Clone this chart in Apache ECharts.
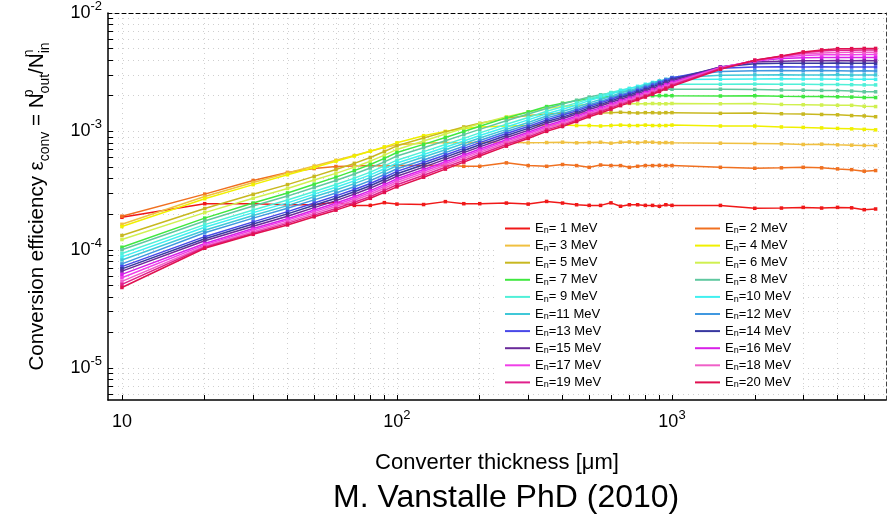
<!DOCTYPE html>
<html>
<head>
<meta charset="utf-8">
<script src="https://cdn.jsdelivr.net/npm/echarts@6/dist/echarts.min.js"></script>
<style>html,body{margin:0;padding:0;background:#fff}#c{width:894px;height:526px}</style>
</head>
<body>
<div id="c"></div>
<script>
// Converter thickness [um]
const thickness = [10,20,30,40,50,60,70,80,90,100,125,150,175,200,250,300,350,400,450,500,550,600,650,700,750,800,850,900,950,1000,1500,2000,2500,3000,3500,4000,4500,5000,5500];
// Conversion efficiency, in units of 1e-4
const unit = 1e-4;
const e1  = [1.88,2.45,2.45,2.40,2.40,2.52,2.37,2.37,2.50,2.43,2.41,2.55,2.45,2.45,2.48,2.43,2.56,2.48,2.40,2.37,2.37,2.49,2.33,2.40,2.40,2.37,2.37,2.33,2.40,2.37,2.37,2.24,2.25,2.28,2.25,2.28,2.26,2.18,2.21];
const e2  = [1.92,2.95,3.85,4.50,4.85,5.05,5.10,5.15,5.10,5.15,5.14,5.18,5.07,5.07,5.42,5.14,5.07,5.25,5.14,4.97,5.20,5.14,5.14,4.97,5.07,5.14,5.14,5.16,5.14,5.14,4.97,4.88,4.92,4.97,4.92,4.82,4.75,4.61,4.67];
const e3  = [1.64,2.82,3.70,4.45,5.10,5.70,6.25,6.80,7.30,7.70,7.95,8.05,8.00,8.10,8.10,8.00,8.05,8.10,8.00,8.05,8.10,7.95,8.10,8.15,8.00,8.15,8.10,8.00,8.05,8.00,7.95,7.90,7.85,7.75,7.80,7.70,7.65,7.60,7.60];
const e4  = [1.57,2.70,3.55,4.30,4.95,5.60,6.20,6.80,7.40,8.00,9.20,10.0,10.6,10.9,11.1,11.2,11.2,11.3,11.2,11.2,11.1,11.2,11.3,11.2,11.2,11.3,11.2,11.2,11.2,11.3,11.1,11.1,10.9,10.8,10.7,10.6,10.5,10.4,10.3];
const e5  = [1.32,2.23,2.94,3.55,4.17,4.76,5.37,6.02,6.76,7.55,8.80,9.90,10.9,11.7,12.9,13.6,14.0,14.2,14.3,14.4,14.3,14.4,14.5,14.4,14.3,14.4,14.4,14.3,14.4,14.4,14.2,14.3,14.1,14.0,13.9,13.8,13.6,13.5,13.3];
const e6  = [1.22,2.06,2.72,3.29,3.88,4.42,4.99,5.60,6.30,7.04,8.30,9.50,10.6,11.6,13.3,14.6,15.6,16.2,16.6,16.9,17.0,17.1,17.1,17.2,17.1,17.1,17.2,17.1,17.1,17.2,17.1,17.2,16.9,16.8,16.7,16.6,16.6,16.3,16.2];
const e7  = [1.05,1.85,2.48,3.02,3.58,4.11,4.66,5.25,5.92,6.63,7.77,8.89,9.98,11.05,13.0,14.6,16.2,17.3,18.2,18.9,19.4,19.7,19.9,20.0,20.0,20.1,20.0,20.0,20.1,20.0,19.9,20.0,19.8,19.7,19.7,19.6,19.5,19.3,19.3];
const e8  = [1.00,1.75,2.34,2.84,3.36,3.85,4.36,4.90,5.53,6.19,7.27,8.34,9.39,10.4,12.3,14.0,15.6,17.0,18.3,19.5,20.4,21.1,21.7,22.1,22.4,22.6,22.7,22.7,22.8,22.7,22.7,22.6,22.4,22.3,22.2,22.1,21.9,21.6,21.6];
const e9  = [0.93,1.63,2.17,2.63,3.11,3.56,4.03,4.53,5.11,5.71,6.74,7.74,8.73,9.71,11.5,13.1,14.8,16.1,17.4,18.8,20.1,21.3,22.3,23.1,23.8,24.3,24.6,24.8,24.9,25.0,25.0,25.1,25.0,25.0,24.9,24.9,24.8,24.7,24.7];
const e10 = [0.87,1.55,2.06,2.49,2.95,3.37,3.82,4.29,4.83,5.41,6.38,7.35,8.30,9.23,10.9,12.5,14.1,15.4,16.7,18.2,19.4,20.7,21.9,22.9,24.0,25.0,25.9,26.6,27.1,27.4,27.6,27.7,27.8,27.7,27.7,27.6,27.5,27.6,27.5];
const e11 = [0.82,1.46,1.95,2.36,2.80,3.20,3.62,4.07,4.59,5.13,6.07,6.99,7.90,8.80,10.4,11.9,13.5,14.7,16.0,17.4,18.6,19.8,21.1,22.1,23.3,24.4,25.6,26.6,27.5,28.3,29.8,30.0,30.1,30.0,30.0,30.1,29.9,30.0,30.0];
const e12 = [0.76,1.39,1.85,2.24,2.64,3.02,3.41,3.84,4.32,4.83,5.73,6.62,7.50,8.37,9.96,11.4,13.0,14.1,15.4,16.8,17.9,19.2,20.4,21.4,22.7,23.8,25.0,26.2,27.4,28.5,32.0,32.5,32.6,32.5,32.6,32.5,32.4,32.5,32.4];
const e13 = [0.72,1.29,1.72,2.10,2.48,2.85,3.23,3.63,4.10,4.59,5.46,6.32,7.18,8.03,9.58,11.0,12.5,13.7,14.9,16.3,17.4,18.7,19.9,20.9,22.1,23.2,24.5,25.7,26.9,28.2,34.2,35.0,35.1,35.0,35.1,35.0,35.0,35.0,35.0];
const e14 = [0.69,1.24,1.65,2.01,2.38,2.72,3.09,3.47,3.92,4.39,5.23,6.06,6.89,7.72,9.23,10.6,12.1,13.2,14.4,15.8,16.9,18.1,19.3,20.3,21.5,22.6,23.8,25.0,26.2,27.5,35.0,37.2,37.6,37.7,37.7,37.8,37.7,37.7,37.6];
const e15 = [0.66,1.19,1.58,1.92,2.27,2.60,2.95,3.32,3.74,4.18,4.99,5.80,6.61,7.40,8.87,10.2,11.7,12.8,14.0,15.3,16.4,17.6,18.7,19.7,20.9,22.0,23.1,24.3,25.5,26.8,35.0,38.5,39.2,39.5,39.5,39.6,39.5,39.6,39.5];
const e16 = [0.62,1.13,1.51,1.83,2.17,2.48,2.80,3.16,3.55,3.98,4.76,5.54,6.32,7.09,8.51,9.82,11.2,12.3,13.5,14.8,15.8,17.0,18.2,19.1,20.3,21.3,22.5,23.6,24.8,26.0,34.7,39.3,41.2,41.8,42.0,42.0,42.1,42.1,42.0];
const e17 = [0.58,1.10,1.47,1.78,2.10,2.40,2.71,3.05,3.43,3.84,4.60,5.36,6.12,6.87,8.27,9.54,10.9,12.0,13.1,14.4,15.4,16.6,17.7,18.6,19.8,20.8,21.9,23.1,24.2,25.4,34.5,39.5,42.5,43.8,44.3,44.5,44.5,44.6,44.6];
const e18 = [0.54,1.07,1.42,1.72,2.03,2.32,2.62,2.94,3.31,3.70,4.44,5.17,5.91,6.65,8.01,9.26,10.6,11.6,12.8,14.0,15.0,16.2,17.3,18.2,19.4,20.4,21.5,22.6,23.7,25.0,34.2,39.7,43.0,45.2,46.0,46.4,46.5,46.6,46.6];
const e19 = [0.51,1.05,1.38,1.67,1.96,2.23,2.52,2.82,3.17,3.54,4.26,4.97,5.69,6.41,7.74,8.96,10.3,11.3,12.4,13.7,14.7,15.8,16.9,17.8,18.9,19.9,21.0,22.2,23.3,24.5,34.0,39.8,43.2,46.2,47.8,48.4,48.5,48.6,48.6];
const e20 = [0.48,1.03,1.35,1.62,1.90,2.16,2.43,2.72,3.05,3.40,4.10,4.80,5.50,6.20,7.50,8.70,10.0,11.0,12.1,13.3,14.3,15.4,16.5,17.4,18.5,19.5,20.6,21.7,22.8,24.0,33.5,39.9,43.4,46.9,48.8,50.0,50.0,50.2,50.2];
const energies = [1,2,3,4,5,6,7,8,9,10,11,12,13,14,15,16,17,18,19,20];
const seriesValues = [e1,e2,e3,e4,e5,e6,e7,e8,e9,e10,e11,e12,e13,e14,e15,e16,e17,e18,e19,e20];
const xTickValues = [10,20,30,40,50,60,70,80,90,100,200,300,400,500,600,700,800,900,1000,2000,3000,4000,5000];
const yTickValues = [6e-6,7e-6,8e-6,9e-6,1e-5,2e-5,3e-5,4e-5,5e-5,6e-5,7e-5,8e-5,9e-5,1e-4,2e-4,3e-4,4e-4,5e-4,6e-4,7e-4,8e-4,9e-4,1e-3,2e-3,3e-3,4e-3,5e-3,6e-3,7e-3,8e-3,9e-3,1e-2];

const colors = ['#f01818','#f07020','#f0c040','#f0f000','#c8b820','#d0f050','#40e840','#60c8a0','#50f0d8','#40f0f0','#40c8d8','#4098e0','#4848e8','#3838a0','#6a2a9a','#d820e8','#f040e8','#f060c8','#e0208c','#e01050'];

const FONT = '"Liberation Sans", Arial, Helvetica, sans-serif';
const chart = echarts.init(document.getElementById('c'), null, {renderer: 'canvas'});

const gridLine = {show: true, lineStyle: {color: '#cfcfcf', type: [1, 4], width: 1}};
const supRich = {
  b: {fontSize: 18, fontFamily: FONT, color: '#000', lineHeight: 26},
  s: {fontSize: 13, fontFamily: FONT, color: '#000', verticalAlign: 'top', lineHeight: 14}
};

const series = energies.map((E, i) => ({
  type: 'line',
  name: String(E),
  xAxisIndex: 0,
  yAxisIndex: 0,
  data: thickness.map((x, j) => [x, seriesValues[i][j] * unit]),
  symbol: 'rect',
  symbolSize: 3.5,
  showSymbol: true,
  lineStyle: {width: 1.5, color: colors[i]},
  itemStyle: {color: colors[i]},
  emphasis: {disabled: true},
  animation: false
}));

const legendText = {
  padding: [0, 0, 0, 0],
  rich: {
    e: {fontSize: 13, fontFamily: FONT, color: '#000', lineHeight: 14},
    n: {fontSize: 9, fontFamily: FONT, color: '#000', lineHeight: 14, verticalAlign: 'bottom'},
    t: {fontSize: 13, fontFamily: FONT, color: '#000', lineHeight: 14}
  }
};
const legendFormatter = name => '{e|E}{n|n}{t|=' + (name.length < 2 ? ' ' : '') + name + ' MeV}';
const legendBase = {
  top: 216, orient: 'vertical', backgroundColor: '#ffffff',
  itemGap: 3.6, itemWidth: 25, itemHeight: 2, icon: 'rect',
  formatter: legendFormatter, textStyle: legendText, selectedMode: false
};

chart.setOption({
  animation: false,
  color: colors,
  title: {
    text: 'M. Vanstalle PhD (2010)',
    left: 333, top: 482, padding: 0,
    textStyle: {fontSize: 32, fontWeight: 'normal', color: '#000', fontFamily: FONT}
  },
  grid: {left: 108, right: 8, top: 12, bottom: 126, containLabel: false},
  legend: [
    Object.assign({}, legendBase, {left: 497, padding: [6, 90, 4, 8], data: energies.filter(e => e % 2 === 1).map(String)}),
    Object.assign({}, legendBase, {left: 687, padding: [6, 12, 4, 8], data: energies.filter(e => e % 2 === 0).map(String)})
  ],
  xAxis: [{
    type: 'log', logBase: 10, position: 'bottom',
    min: 8.9, max: 6000,
    axisLine: {show: true, lineStyle: {color: '#000', width: 1.5}},
    axisTick: {show: true, inside: true, length: 5, customValues: xTickValues, lineStyle: {color: '#000', width: 1}},
    minorTick: {show: false},
    splitLine: gridLine,
    axisLabel: {
      show: true, margin: 9, showMinLabel: false, showMaxLabel: false,
      formatter: v => {
        const n = Math.round(Math.log10(v));
        return n === 1 ? '{b|10}' : '{b|10}{s|' + n + '}';
      },
      rich: supRich
    },
    name: 'Converter thickness [\u03bcm]',
    nameLocation: 'middle', nameGap: 52,
    nameTextStyle: {fontSize: 22, color: '#000', fontFamily: FONT}
  }, {
    type: 'log', logBase: 10, position: 'top',
    min: 8.9, max: 6000,
    axisLine: {show: true, lineStyle: {color: '#000', width: 1, type: [4, 3]}},
    axisTick: {show: false}, axisLabel: {show: false}, splitLine: {show: false}
  }],
  yAxis: [{
    type: 'log', logBase: 10, position: 'left',
    min: 5.38e-6, max: 1e-2,
    axisLine: {show: true, lineStyle: {color: '#000', width: 1.5}},
    axisTick: {show: true, inside: true, length: 5, customValues: yTickValues, lineStyle: {color: '#000', width: 1}},
    minorTick: {show: false},
    splitLine: gridLine,
    axisLabel: {
      show: true, margin: 6, showMinLabel: false, showMaxLabel: true,
      formatter: v => '{b|10}{s|' + Math.round(Math.log10(v)) + '}',
      rich: supRich
    },
    name: '{a|Conversion efficiency \u03b5}{b|conv}{a| = N}{p|p}{b|out}{a|/N}{p|n}{b|in}',
    nameLocation: 'middle', nameRotate: 90, nameGap: 56,
    nameTextStyle: {
      fontFamily: FONT, color: '#000',
      rich: {
        a: {fontSize: 20.5, fontFamily: FONT, color: '#000', lineHeight: 30},
        b: {fontSize: 14, fontFamily: FONT, color: '#000', lineHeight: 30, verticalAlign: 'bottom'},
        p: {fontSize: 14, fontFamily: FONT, color: '#000', lineHeight: 30, verticalAlign: 'top', width: 0.1}
      }
    }
  }, {
    type: 'log', logBase: 10, position: 'right',
    min: 5.38e-6, max: 1e-2,
    axisLine: {show: true, lineStyle: {color: '#444', width: 1, type: [4, 3]}},
    axisTick: {show: false}, axisLabel: {show: false}, splitLine: {show: false}
  }],
  series: series
});
</script>
</body>
</html>
